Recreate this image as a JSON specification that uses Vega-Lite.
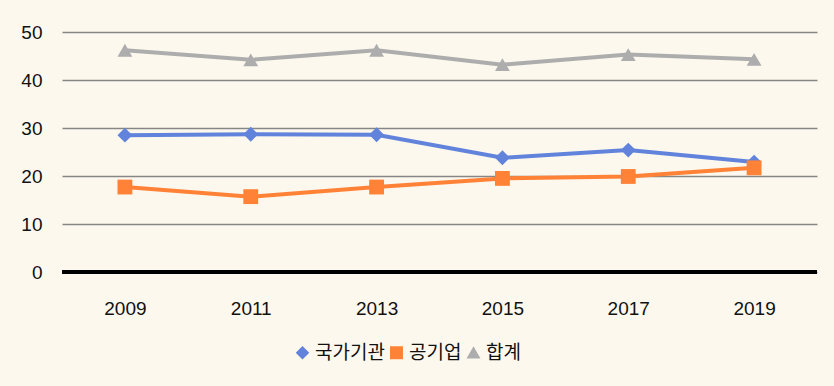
{
  "$schema": "https://vega.github.io/schema/vega-lite/v6.json",
  "width": 755,
  "height": 240,
  "autosize": {"type": "none"},
  "padding": {"left": 62, "top": 32, "right": 17, "bottom": 114},
  "background": "#FCF8EE",
  "data": {
    "values": [
      {"year": "2009", "series": "국가기관", "value": 28.5},
      {"year": "2011", "series": "국가기관", "value": 28.7},
      {"year": "2013", "series": "국가기관", "value": 28.6},
      {"year": "2015", "series": "국가기관", "value": 23.8},
      {"year": "2017", "series": "국가기관", "value": 25.4},
      {"year": "2019", "series": "국가기관", "value": 22.9},
      {"year": "2009", "series": "공기업", "value": 17.7},
      {"year": "2011", "series": "공기업", "value": 15.7},
      {"year": "2013", "series": "공기업", "value": 17.7},
      {"year": "2015", "series": "공기업", "value": 19.5},
      {"year": "2017", "series": "공기업", "value": 19.9},
      {"year": "2019", "series": "공기업", "value": 21.7},
      {"year": "2009", "series": "합계", "value": 46.2},
      {"year": "2011", "series": "합계", "value": 44.2},
      {"year": "2013", "series": "합계", "value": 46.2},
      {"year": "2015", "series": "합계", "value": 43.2},
      {"year": "2017", "series": "합계", "value": 45.3},
      {"year": "2019", "series": "합계", "value": 44.3}
    ]
  },
  "encoding": {
    "x": {
      "field": "year", "type": "ordinal",
      "scale": {"paddingInner": 0, "paddingOuter": 0},
      "axis": {"title": null, "domain": false, "ticks": false, "labelAngle": 0,
               "labelPadding": 27, "labelFontSize": 19, "labelFont": "Liberation Sans",
               "labelColor": "#111111", "grid": false}
    },
    "y": {
      "field": "value", "type": "quantitative",
      "scale": {"domain": [0, 50], "nice": false},
      "axis": {"title": null, "domain": false, "ticks": false, "values": [0, 10, 20, 30, 40, 50],
               "labelPadding": 20, "labelFontSize": 19, "labelFont": "Liberation Sans",
               "labelColor": "#111111", "gridColor": "#868686", "gridWidth": 1.6, "gridOpacity": 1}
    },
    "color": {
      "field": "series", "type": "nominal",
      "scale": {"domain": ["국가기관", "공기업", "합계"], "range": ["#6183DB", "#FF8236", "#ADADAD"]},
      "legend": {"title": null, "orient": "none", "legendX": 231, "legendY": 311, "direction": "horizontal",
                 "labelFont": "Noto Sans CJK KR", "labelFontSize": 19, "labelColor": "#111111",
                 "symbolSize": 130, "columnPadding": 2, "labelOffset": 3}
    }
  },
  "layer": [
    {
      "mark": {"type": "line", "strokeWidth": 4},
      "encoding": {}
    },
    {
      "mark": {"type": "point", "filled": true, "opacity": 1},
      "encoding": {
        "shape": {
          "field": "series", "type": "nominal",
          "scale": {"domain": ["국가기관", "공기업", "합계"], "range": ["diamond", "square", "triangle-up"]},
          "legend": {"title": null, "orient": "none", "legendX": 231, "legendY": 311, "direction": "horizontal",
                     "labelFont": "Noto Sans CJK KR", "labelFontSize": 19, "labelColor": "#111111",
                     "symbolSize": 130, "columnPadding": 2, "labelOffset": 3}
        },
        "size": {"value": 220}
      }
    },
    {
      "mark": {"type": "rule", "color": "#000000", "strokeWidth": 3},
      "encoding": {"y": {"datum": 0}, "x": null, "color": null}
    }
  ],
  "config": {
    "view": {"stroke": null}
  }
}
